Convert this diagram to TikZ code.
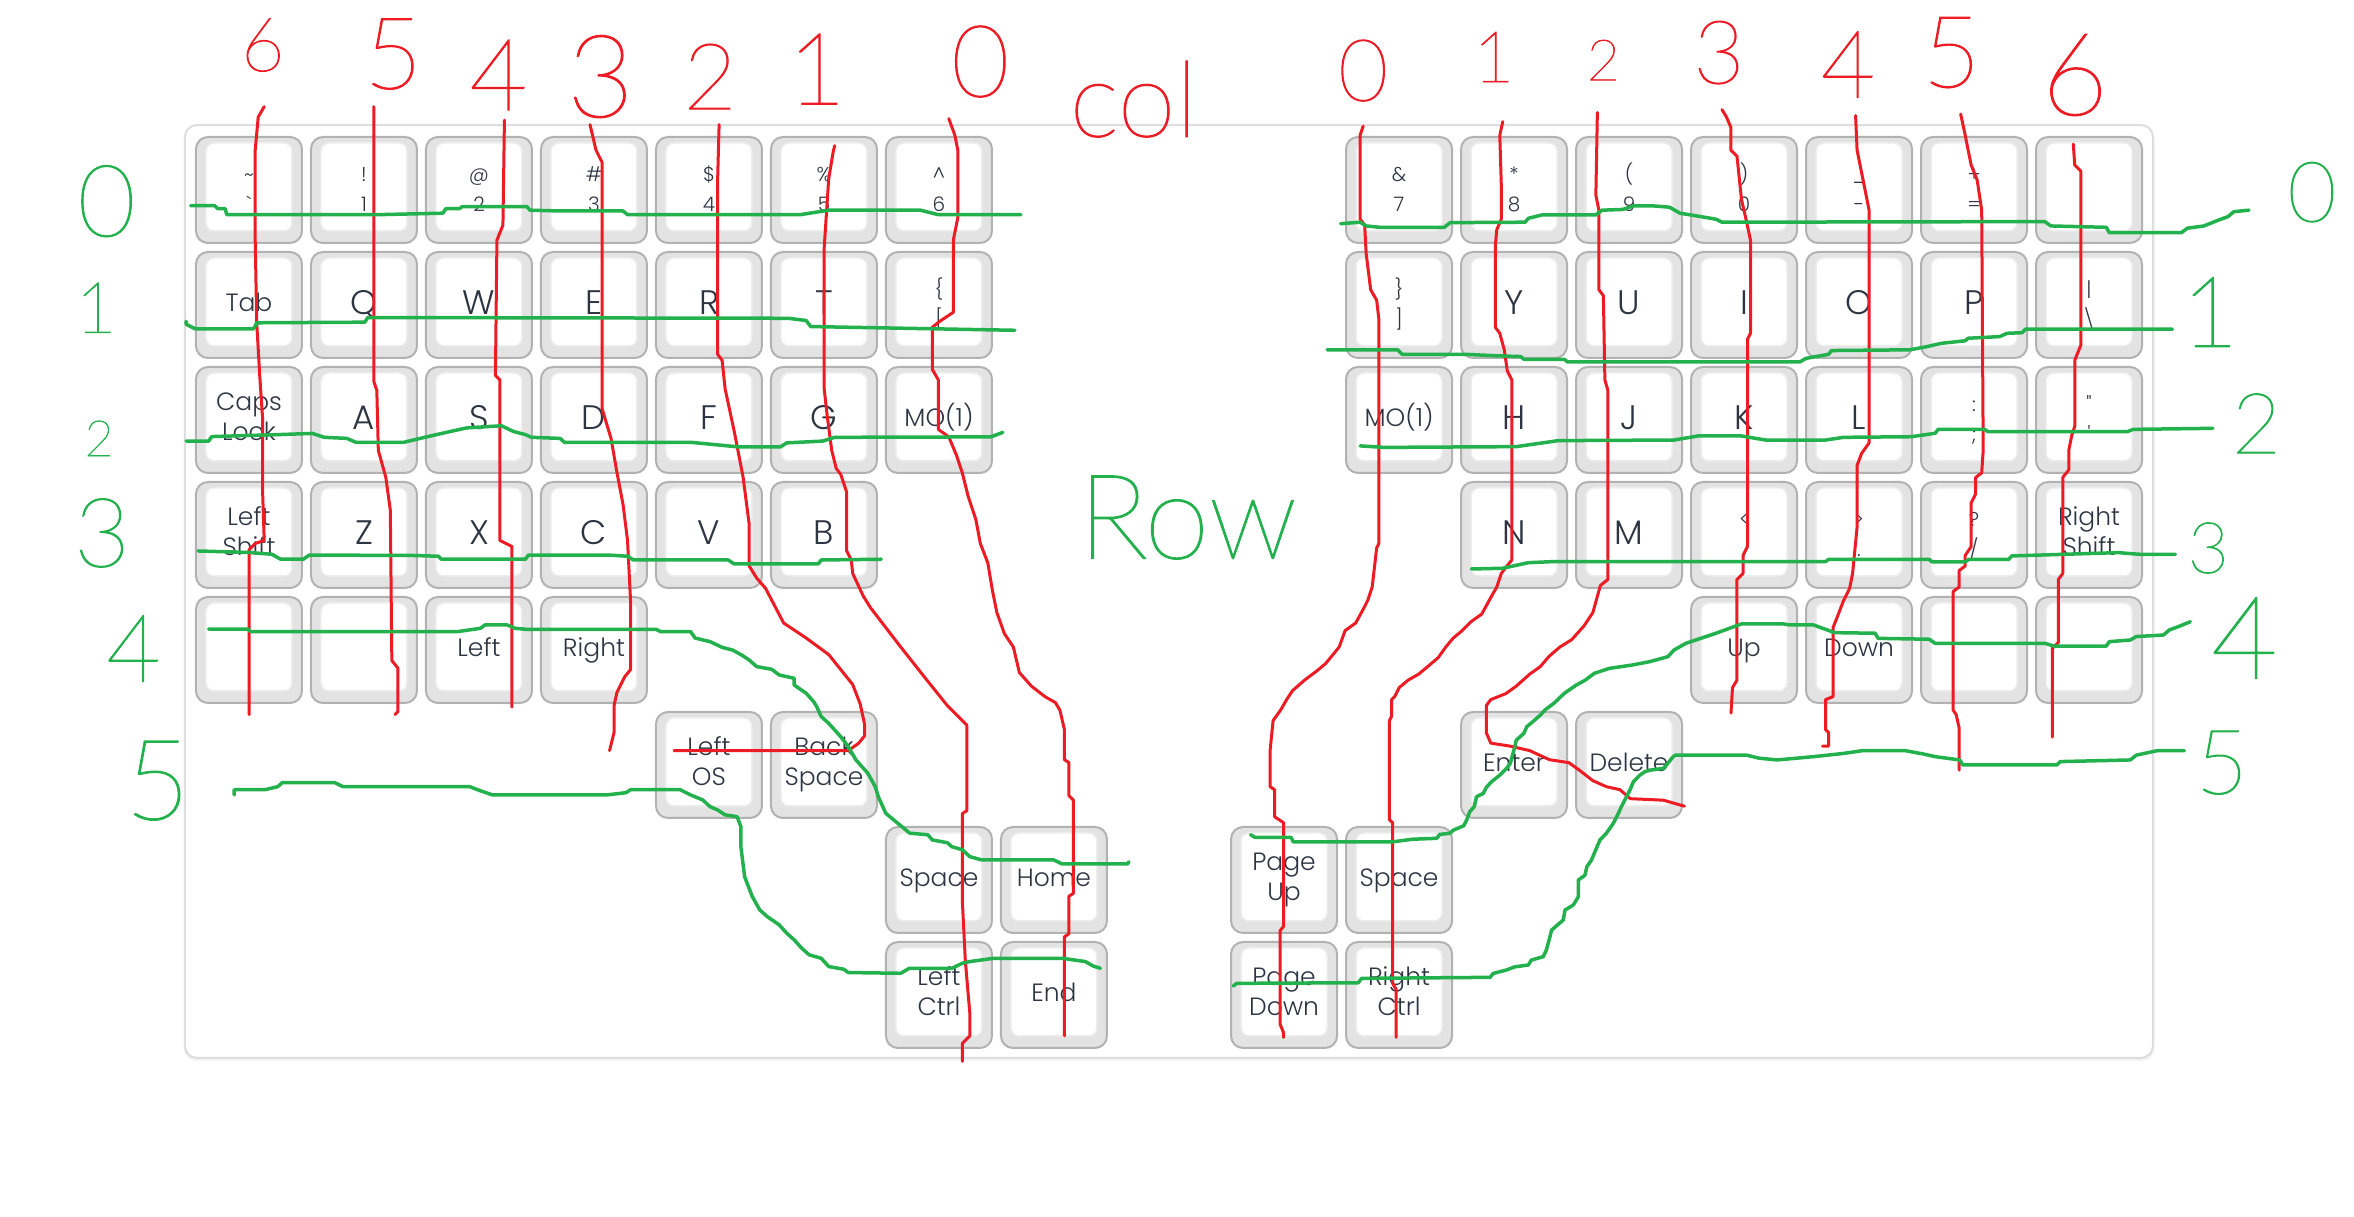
\documentclass[tikz,border=0pt]{standalone}
\usepackage{fontspec}
\IfFontExistsTF{Poppins Light}{\setmainfont{Poppins Light}}{\setmainfont{Poppins}}
\IfFontExistsTF{Lato Hairline}{\newfontfamily\handfont{Lato Hairline}[FakeBold=1.2]}{%
  \IfFontExistsTF{Lato Light}{\newfontfamily\handfont{Lato Light}}{\newfontfamily\handfont{Liberation Sans}}}
\definecolor{keyborder}{HTML}{B2B2B2}
\definecolor{keyfill}{HTML}{E3E3E3}
\definecolor{keyinner}{HTML}{EDEDED}
\definecolor{keytext}{HTML}{2E3542}
\definecolor{boxborder}{HTML}{DEDEDE}
\definecolor{pred}{HTML}{ED1C24}
\definecolor{pgreen}{HTML}{22B14C}
\tikzset{
  keycap/.style={draw=keyborder, fill=keyfill, line width=2pt, rounded corners=12pt,
    minimum width=106pt, minimum height=106pt, inner sep=0pt, outer sep=0pt,
    path picture={\filldraw[fill=white, draw=keyinner, line width=1.5pt, rounded corners=8pt]
      ([xshift=10pt,yshift=12pt]path picture bounding box.south west) rectangle
      ([xshift=-10pt,yshift=-6pt]path picture bounding box.north east);}},
  klabel/.style={text=keytext, inner sep=0pt, outer sep=0pt, anchor=base},
  redline/.style={draw=pred, line width=3pt, line join=round, line cap=round},
  greenline/.style={draw=pgreen, line width=3.5pt, line join=round, line cap=round},
  hand/.style={inner sep=0pt, outer sep=0pt}
}
\newcommand\lkey[3]{\node[keycap] (#1) at ({165.85+76.6*(#2)},{126.55+76.6*(#3)}) {};}
\newcommand\rkey[3]{\node[keycap] (#1) at ({931.9+76.6*(#2)},{126.55+76.6*(#3)}) {};}
\newcommand\kylab[5]{\node[klabel, font=\fontsize{#3}{#3}\selectfont] (#1#2) at ([yshift=#4]#1.center) {#5};}
\newcommand\kyL[2]{\kylab{#1}{t}{34}{-10pt}{#2}}
\newcommand\kyW[2]{\kylab{#1}{t}{25}{-7pt}{#2}}
\newcommand\kyT[3]{\kylab{#1}{a}{25}{9.5pt}{#2}\kylab{#1}{b}{25}{-20.5pt}{#3}}
\newcommand\kyS[3]{\kylab{#1}{a}{20}{8pt}{#2}\kylab{#1}{b}{20}{-22pt}{#3}}
\newcommand\hd[5]{\node[hand, text=#4, font=\handfont\fontsize{#3}{#3}\selectfont] (#1) at #2 {#5};}
\begin{document}
\begin{tikzpicture}[x=1.5013pt,y=-1.5013pt]
\useasboundingbox (0,0) rectangle (1568,810);
\fill[white] (0,0) rectangle (1568,810);
% board
\fill[black!5, rounded corners=12pt] (122.5,84.5) rectangle (1435,706.5);
\draw[draw=boxborder, fill=white, line width=2pt, rounded corners=12pt] (123.2,83.3) rectangle (1434.1,704.7);

% ---------- left half ----------
\lkey{k00}{0}{0} \kyS{k00}{\textasciitilde}{\textasciigrave}
\lkey{k01}{1}{0} \kyS{k01}{!}{1}
\lkey{k02}{2}{0} \kyS{k02}{@}{2}
\lkey{k03}{3}{0} \kyS{k03}{\#}{3}
\lkey{k04}{4}{0} \kyS{k04}{\$}{4}
\lkey{k05}{5}{0} \kyS{k05}{\%}{5}
\lkey{k06}{6}{0} \kyS{k06}{\textasciicircum}{6}
\lkey{kTab}{0}{1} \kyW{kTab}{Tab}
\lkey{kQ}{1}{1} \kyL{kQ}{Q}
\lkey{kW}{2}{1} \kyL{kW}{W}
\lkey{kE}{3}{1} \kyL{kE}{E}
\lkey{kR}{4}{1} \kyL{kR}{R}
\lkey{kT}{5}{1} \kyL{kT}{T}
\lkey{kLbr}{6}{1} \kyS{kLbr}{\{}{[}
\lkey{kCaps}{0}{2} \kyT{kCaps}{Caps}{Lock}
\lkey{kA}{1}{2} \kyL{kA}{A}
\lkey{kS}{2}{2} \kyL{kS}{S}
\lkey{kD}{3}{2} \kyL{kD}{D}
\lkey{kF}{4}{2} \kyL{kF}{F}
\lkey{kG}{5}{2} \kyL{kG}{G}
\lkey{kMOl}{6}{2} \kyW{kMOl}{MO(1)}
\lkey{kLSh}{0}{3} \kyT{kLSh}{Left}{Shift}
\lkey{kZ}{1}{3} \kyL{kZ}{Z}
\lkey{kX}{2}{3} \kyL{kX}{X}
\lkey{kC}{3}{3} \kyL{kC}{C}
\lkey{kV}{4}{3} \kyL{kV}{V}
\lkey{kB}{5}{3} \kyL{kB}{B}
\lkey{kBl0}{0}{4}
\lkey{kBl1}{1}{4}
\lkey{kLeft}{2}{4} \kyW{kLeft}{Left}
\lkey{kRight}{3}{4} \kyW{kRight}{Right}
\lkey{kLOS}{4}{5} \kyT{kLOS}{Left}{OS}
\lkey{kBsp}{5}{5} \kyT{kBsp}{Back}{Space}
\lkey{kLSp}{6}{6} \kyW{kLSp}{Space}
\lkey{kHome}{7}{6} \kyW{kHome}{Home}
\lkey{kLCtl}{6}{7} \kyT{kLCtl}{Left}{Ctrl}
\lkey{kEnd}{7}{7} \kyW{kEnd}{End}

% ---------- right half ----------
\rkey{r00}{0}{0} \kyS{r00}{\&}{7}
\rkey{r01}{1}{0} \kyS{r01}{*}{8}
\rkey{r02}{2}{0} \kyS{r02}{(}{9}
\rkey{r03}{3}{0} \kyS{r03}{)}{0}
\rkey{r04}{4}{0} \kyS{r04}{\_}{-}
\rkey{r05}{5}{0} \kyS{r05}{+}{=}
\rkey{r06}{6}{0}
\rkey{r10}{0}{1} \kyS{r10}{\}}{]}
\rkey{r11}{1}{1} \kyL{r11}{Y}
\rkey{r12}{2}{1} \kyL{r12}{U}
\rkey{r13}{3}{1} \kyL{r13}{I}
\rkey{r14}{4}{1} \kyL{r14}{O}
\rkey{r15}{5}{1} \kyL{r15}{P}
\rkey{r16}{6}{1} \kyS{r16}{\textbar}{\textbackslash}
\rkey{r20}{0}{2} \kyW{r20}{MO(1)}
\rkey{r21}{1}{2} \kyL{r21}{H}
\rkey{r22}{2}{2} \kyL{r22}{J}
\rkey{r23}{3}{2} \kyL{r23}{K}
\rkey{r24}{4}{2} \kyL{r24}{L}
\rkey{r25}{5}{2} \kyS{r25}{:}{;}
\rkey{r26}{6}{2} \kyS{r26}{\textquotedbl}{\textquotesingle}
\rkey{r31}{1}{3} \kyL{r31}{N}
\rkey{r32}{2}{3} \kyL{r32}{M}
\rkey{r33}{3}{3} \kyS{r33}{<}{,}
\rkey{r34}{4}{3} \kyS{r34}{>}{.}
\rkey{r35}{5}{3} \kyS{r35}{?}{/}
\rkey{r36}{6}{3} \kyT{r36}{Right}{Shift}
\rkey{r43}{3}{4} \kyW{r43}{Up}
\rkey{r44}{4}{4} \kyW{r44}{Down}
\rkey{r45}{5}{4}
\rkey{r46}{6}{4}
\rkey{r51}{1}{5} \kyW{r51}{Enter}
\rkey{r52}{2}{5} \kyW{r52}{Delete}
\rkey{rPgU}{-1}{6} \kyT{rPgU}{Page}{Up}
\rkey{rSp}{0}{6} \kyW{rSp}{Space}
\rkey{rPgD}{-1}{7} \kyT{rPgD}{Page}{Down}
\rkey{rCtl}{0}{7} \kyT{rCtl}{Right}{Ctrl}

% ---------- red column strokes, left ----------
\draw[redline] plot coordinates {(176,71) (172,78) (170,100) (170,160) (171,215) (173,250) (175,280) (175,330) (176,360) (170,362) (166,366) (166,476)};
\draw[redline] plot coordinates {(249,71) (249,254) (251,260) (252,300) (257,318) (260,340) (261,440) (265,445) (265,474) (263,476)};
\draw[redline] plot coordinates {(336,80) (335,150) (331,160) (330,250) (333,253) (333,360) (341,364) (341,471)};
\draw[redline] plot coordinates {(393,83) (397,100) (401,108) (401,272) (407,292) (411,315) (415,336) (418,360) (420,400) (420,446) (416,451) (411,461) (409,470) (409,488) (406,500)};
\draw[redline] plot coordinates {(479,83) (478,120) (478,236) (481,240) (483,259) (489,287) (495,318) (499,349) (499,377) (504,385) (510,392) (522,415) (537,425) (552,436) (560,446) (568,456) (573,469) (576,483) (576,490) (572,495) (565,500) (449,500)};
\draw[redline] plot coordinates {(556,97) (555,101) (552,119) (549,165) (549,259) (551,277) (554,300) (557,312) (560,316) (564,328) (564,367) (567,373) (568,382) (575,397) (580,405) (600,431) (615,450) (631,470) (640,479) (644,483) (644,540) (641,542) (641,600) (643,640) (646,675) (646,690) (641,695) (641,707)};
\draw[redline] plot coordinates {(632,79) (636,90) (638,100) (638,145) (635,160) (635,208) (626,214) (621,218) (621,246) (625,253) (625,286) (632,291) (637,303) (641,315) (645,331) (650,346) (653,362) (658,375) (661,393) (664,408) (669,422) (675,431) (679,448) (687,457) (696,464) (703,468) (706,473) (709,486) (709,506) (712,508) (712,530) (715,533) (715,595) (712,597) (712,622) (709,624) (709,690)};

% ---------- red column strokes, right ----------
\draw[redline] plot coordinates {(908,84) (906,90) (906,146) (909,150) (910,169) (913,193) (917,200) (918.5,213) (918.5,362) (917,365) (914,391) (911,400) (909,404) (903,415) (896,420) (892,431) (883,442) (877,447) (869,453) (861,460) (857,466) (853,473) (848,480) (846,500) (846,524) (849,526) (849,544) (855,548) (855,617) (852.6,620) (852.6,682) (855,688) (855,691)};
\draw[redline] plot coordinates {(1001,81) (999,90) (1000,123) (1000,146) (997,153) (996,164) (996,218) (999,222) (1002,233) (1004,247) (1007,253) (1007,373) (1003,378) (1000,382) (997,391) (993,398) (987,409) (980,414) (974,420) (968,425) (963,431) (958,438) (951,444) (945,449) (938,453) (932,458) (929,464) (927,466) (927,477) (925.5,480) (925.5,546) (927.6,548) (927.6,655) (930,659) (930,691)};
\draw[redline] plot coordinates {(1064,75) (1063,130) (1065,140) (1065,193) (1068,197) (1069,253) (1071,260) (1071,386) (1066,390) (1061,408) (1055,417) (1047,426) (1039,431) (1032,437) (1026,444) (1019,449) (1010,457) (1003,462) (993,466) (990,470) (990,488) (993,495) (1006,497) (1019,500) (1032,506) (1045,508) (1052,513) (1061,520) (1070,524) (1079,526) (1086,532) (1108,533) (1122,537)};
\draw[redline] plot coordinates {(1147,73) (1150,78) (1153,85) (1153,100) (1157,104) (1160,133) (1163,146) (1166,160) (1166,222) (1164,226) (1164,364) (1161,370) (1161,382) (1157,386) (1157,453) (1154,458) (1153,475)};
\draw[redline] plot coordinates {(1236,77) (1237,100) (1239,110) (1243,130) (1245,140) (1245,295) (1240,302) (1237,310) (1237,351) (1234,382) (1232,392) (1228,400) (1223,413) (1221,418) (1221,464) (1216,466) (1216,486) (1218,488) (1218,497) (1214,497)};
\draw[redline] plot coordinates {(1306,76) (1309,90) (1313,110) (1317,120) (1320,140) (1321,300) (1320,315) (1316,318) (1316,329) (1313,335) (1313,364) (1309,370) (1309,377) (1305,380) (1305,391) (1301,394) (1301,473) (1303,476) (1305,485) (1305,513)};
\draw[redline] plot coordinates {(1381,96) (1382,110) (1386,114) (1386,230) (1382,240) (1382,284) (1380,290) (1378,300) (1378,313) (1374,318) (1374,382) (1371,386) (1371,428) (1367,432) (1367,491)};

% ---------- green row strokes, left ----------
\draw[greenline] plot coordinates {(127,137) (143,137) (145,139) (150,139) (151,143) (251,143) (295,142) (297,139) (306,139) (308,137.6) (351,137.6) (353,140) (372,140.5) (415,140.5) (418,143) (533,143) (552,140) (613,140) (625,143) (680,143)};
\draw[greenline] plot coordinates {(124,214) (124,216) (130,219) (169,219) (171,215) (243,214.6) (245,211.5) (248,211.5) (525,212) (537,213.5) (540,217.5) (550,217.7) (676,220)};
\draw[greenline] plot coordinates {(124,293.8) (139,293.8) (141,290.8) (185,289.5) (208,288.7) (216,291.3) (231,292) (237,294.6) (269,294.6) (285,290.8) (300,287.4) (311,285) (334,283.6) (342,287.4) (350,289.5) (354,291.3) (373,292) (376,294.6) (460,294.6) (491,297.6) (520,297.6) (524,295) (548,293.8) (556,291.3) (660,291) (668,288)};
\draw[greenline] plot coordinates {(132,367) (166,368) (181,369.2) (187,372.5) (202,372.5) (206,369.7) (275,370) (292,370.5) (294,372.5) (350,372.5) (352,369.7) (405,369.7) (418,370.5) (422,373) (485,373) (489,375.6) (545,375.6) (547,373) (587,372.5)};
\draw[greenline] plot coordinates {(139,419) (165,419) (167,420.7) (305,420.7) (320,418.5) (323,416.3) (338,416.3) (343,418.5) (351,419.2) (437,419.2) (440,420.7) (460,420.7) (463,425) (473,427.4) (481,431.2) (488,433) (494,436.3) (499,439.6) (504,444) (514,445.8) (519,449.6) (529,451.8) (529,456.3) (537,461.8) (542,467.4) (544,470.7) (547,477.3) (552,481.8) (560,490.7) (565,497.3) (570,506) (578,515) (583,524) (585,530.6) (590,541.7) (598,548.4) (606,555) (618,556) (621,559.5) (631,561.3) (634,564) (641,566) (646,570.6) (654,572.8) (702,572.8) (707.5,575.5) (751,575.5) (752,574)};
\draw[greenline] plot coordinates {(156,529.5) (156,526) (176.5,526) (185,524) (188,521.3) (223,521.3) (228.5,524) (313,524) (318,526) (328,529.5) (404,529.5) (417,528) (420,526) (453,526) (460,529.5) (468,532.8) (473,537.3) (478,539.5) (483,542.8) (491,544) (493.5,550.6) (493.5,564) (496,584) (501,597) (506,606) (511,610.5) (519,616) (524,621.6) (529,626) (534,631.6) (539,636) (547,638.3) (552,643.8) (562,645.6) (565,647.8) (600,648.3) (605.6,645) (634,645) (641,641.6) (646,640.5) (662,638.3) (707.5,638.3) (723,640.5) (728,643.4) (733,645)};

% ---------- green row strokes, right ----------
\draw[greenline] plot coordinates {(893,149) (906,148) (910,150.5) (919,151.4) (962,151.4) (966,148.3) (1016,148) (1018,145.4) (1027,143.2) (1063,143.2) (1067,140) (1081,139.5) (1088,137.2) (1102,137.2) (1112,138) (1119,142) (1133,144.3) (1143,146) (1147,148) (1362,147.6) (1366,150.5) (1403,151.4) (1405,155) (1453,155) (1457,152) (1468,150.5) (1478,146.5) (1484,144.3) (1488,141) (1498,140)};
\draw[greenline] plot coordinates {(884,233) (931,233) (934,236) (976,236) (997,237) (1013,237.5) (1015,239.3) (1042,239.3) (1044,241) (1199,241) (1203,238.7) (1218,236) (1220,233.5) (1272,233) (1283,231) (1293,228.7) (1309,227) (1311,225.3) (1332,224.2) (1337,222) (1347,221.6) (1349,219.3) (1447,219.3)};
\draw[greenline] plot coordinates {(906,297) (922,298) (1010,297.5) (1038,293.5) (1115,293.1) (1131,290.4) (1160,290.4) (1176,293.1) (1216,293.1) (1228,291.3) (1273,290.9) (1289,288.6) (1291,286) (1322,286) (1324,287.5) (1417,287.5) (1421,286) (1474,285.3)};
\draw[greenline] plot coordinates {(980,379) (1001,378.5) (1018,374.8) (1034,374.1) (1216,374.1) (1218,372.6) (1285,372.6) (1287,374.3) (1309,374.3) (1311.5,372.6) (1338,372.6) (1340,370.3) (1411,368.1) (1425,369.2) (1449,369.2)};
\draw[greenline] plot coordinates {(833,556) (836,557.8) (860,557.8) (861.4,560.7) (928,560.7) (941,559) (957,558.4) (959,555.8) (966,555) (968,553) (975,550) (977,546) (979,540.7) (982,537.3) (983.5,530.7) (988,528.5) (990,524.5) (993.5,520.7) (999,516.3) (1003.5,511.8) (1006,508.5) (1009,497.4) (1010,493) (1015,488.5) (1017,484) (1021,480.7) (1026,476.3) (1029,473) (1035,468.5) (1042,461.8) (1050,456.3) (1056,453) (1062,448.5) (1072,445.2) (1087,443) (1099,440.7) (1111,437.4) (1115,433) (1123,428.5) (1131,425.8) (1143,421.8) (1155,417.4) (1160,415.6) (1188,415.6) (1192,416.3) (1208,416.3) (1216,419.2) (1222,421.4) (1249,421.8) (1251,425.2) (1285,425.8) (1289,428.5) (1362,428.5) (1368,430.3) (1403,430.3) (1405,427.4) (1419,426.3) (1423,424) (1441,423) (1445,419.6) (1451,417.4) (1459,414.1)};
\draw[greenline] plot coordinates {(821.5,656.8) (823.7,655) (904.7,654.6) (907,651.7) (992.5,651) (994.6,648.4) (1003.5,646.1) (1009,644) (1018,642.8) (1020,639.5) (1028,637.2) (1030,632.8) (1032.4,624) (1033.5,619.5) (1041.3,612.8) (1042.4,606.2) (1048,602.8) (1051.3,597.3) (1051.3,586.2) (1055.7,583) (1057,577.3) (1060,573) (1062.4,567.3) (1065.7,559.5) (1070,555) (1074.6,548.4) (1078,541.8) (1080,537.3) (1083.4,530.7) (1085.7,526.2) (1088,520.7) (1092.3,516.3) (1095.7,514) (1099,513) (1108,511.8) (1110,509.6) (1114.5,504) (1116,503) (1163.5,503) (1171.6,505) (1183.8,506.2) (1208,504) (1228.4,501.8) (1240.5,500) (1269,500) (1281,502.2) (1289,504) (1305.4,506.2) (1307.4,509.5) (1370,509.5) (1372.3,507.3) (1419,506.2) (1423,503) (1437,500) (1455,500)};

% ---------- handwritten numbers ----------
\hd{cl6}{(175,30)}{75}{pred}{6}
\hd{cl5}{(262,36)}{100}{pred}{5}
\hd{cl4}{(332,50)}{100}{pred}{4}
\hd{cl3}{(400,51)}{115}{pred}{3}
\hd{cl2}{(473,51)}{92}{pred}{2}
\hd{cl1}{(544,46)}{100}{pred}{1}
\hd{cl0}{(653,41)}{100}{pred}{0}
\node[hand, text=pred, font=\handfont\fontsize{105}{105}\selectfont, anchor=base] (colword) at (755,91) {col};
\hd{cr0}{(908,47)}{86}{pred}{0}
\hd{cr1}{(995,38)}{71}{pred}{1}
\hd{cr2}{(1068,40)}{57}{pred}{2}
\hd{cr3}{(1145,35)}{88}{pred}{3}
\hd{cr4}{(1231,43)}{94}{pred}{4}
\hd{cr5}{(1300,35)}{100}{pred}{5}
\hd{cr6}{(1382,50)}{115}{pred}{6}
\hd{rl0}{(71,134)}{100}{pgreen}{0}
\hd{rl1}{(64,205)}{71}{pgreen}{1}
\hd{rl2}{(66,292)}{50}{pgreen}{2}
\hd{rl3}{(68,355)}{96}{pgreen}{3}
\hd{rl4}{(89,432)}{94}{pgreen}{4}
\hd{rl5}{(105,520)}{112}{pgreen}{5}
\hd{rr0}{(1540,128)}{84}{pgreen}{0}
\hd{rr1}{(1472,208)}{98}{pgreen}{1}
\hd{rr2}{(1503,282)}{84}{pgreen}{2}
\hd{rr3}{(1471,365)}{71}{pgreen}{3}
\hd{rr4}{(1495,425)}{115}{pgreen}{4}
\hd{rr5}{(1480,508)}{90}{pgreen}{5}
\node[hand, text=pgreen, font=\handfont\fontsize{118}{118}\selectfont, anchor=base] (rowword) at (791,372) {Row};
\end{tikzpicture}
\end{document}
